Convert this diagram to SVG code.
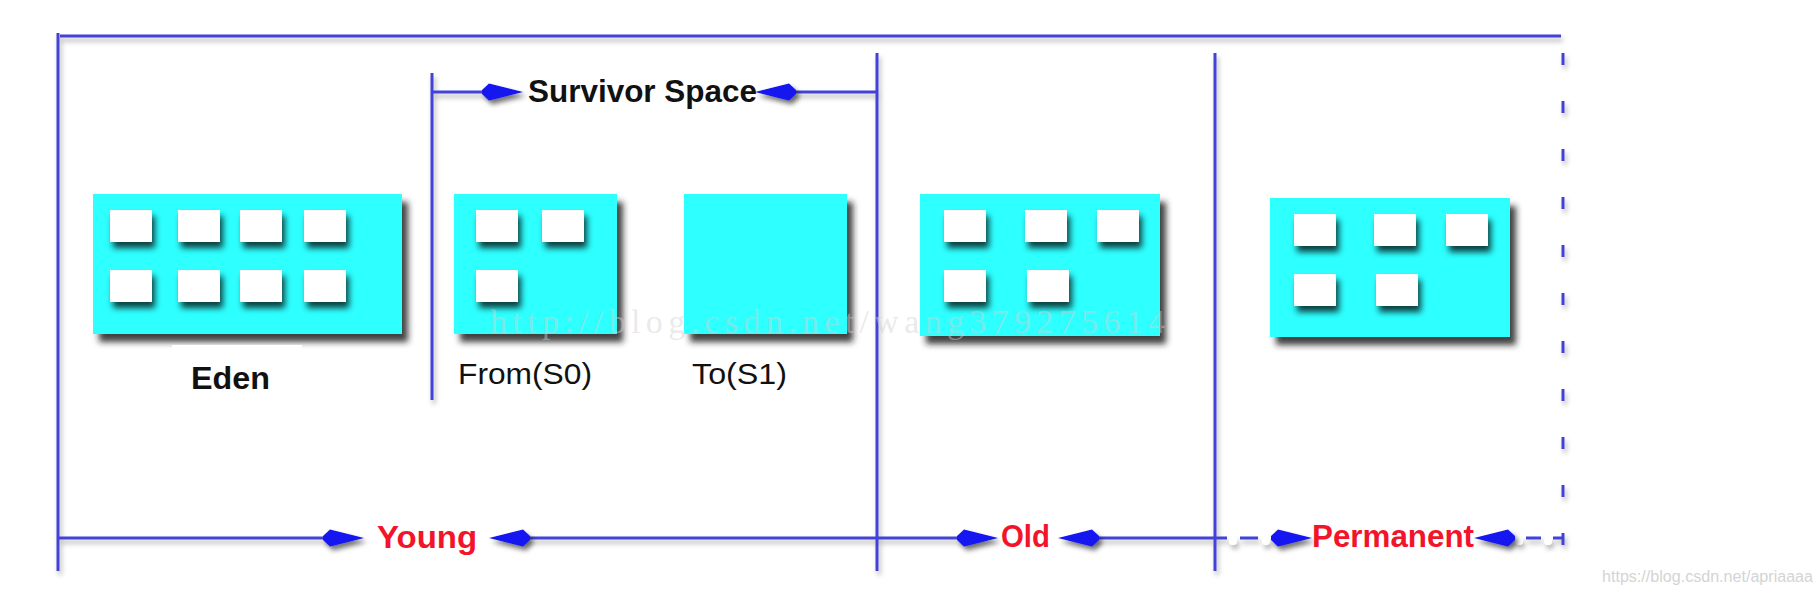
<svg xmlns="http://www.w3.org/2000/svg" xmlns:xlink="http://www.w3.org/1999/xlink" width="1820" height="596" viewBox="0 0 1820 596">
  <style>
    .ln { stroke: #4242d6; stroke-width: 3; fill: none; }
    .box { fill: #2effff; }
    .sq { fill: #ffffff; }
    .lbl { font-family: "Liberation Sans", Arial, sans-serif; fill: #111111; }
    .red { font-family: "Liberation Sans", Arial, sans-serif; font-weight: bold; fill: #f2142a; font-size: 31px; }
    .ah { fill: #1414f0; filter: url(#ahShadow); }
    .dot { fill: #ffffff; }
  </style>
  <defs>
    <filter id="boxShadow" x="-10%" y="-10%" width="130%" height="140%">
      <feDropShadow dx="6" dy="8" stdDeviation="3" flood-color="#202020" flood-opacity="0.85"/>
    </filter>
    <filter id="sqShadow" x="-20%" y="-20%" width="150%" height="170%">
      <feDropShadow dx="3" dy="6" stdDeviation="3" flood-color="#000000" flood-opacity="0.75"/>
    </filter>
    <filter id="lnShadow" x="-5%" y="-20%" width="110%" height="140%" filterUnits="userSpaceOnUse">
      <feDropShadow dx="2" dy="4" stdDeviation="2.5" flood-color="#000000" flood-opacity="0.3"/>
    </filter>
    <filter id="ahShadow" x="-30%" y="-60%" width="170%" height="260%">
      <feDropShadow dx="3" dy="4" stdDeviation="2.5" flood-color="#000000" flood-opacity="0.55"/>
    </filter>
    <path id="arrowR" d="M0,0 L-34,-8.5 L-41,-2 L-41,2 L-34,8.5 Z"/>
    <path id="arrowL" d="M0,0 L34,-8.5 L41,-2 L41,2 L34,8.5 Z"/>
  </defs>

  <rect width="1820" height="596" fill="#ffffff"/>

  <g id="connectors">
    <g filter="url(#lnShadow)">
      <path class="ln" d="M60,36 H1561"/>
      <path class="ln" d="M58,33 V571"/>
      <path class="ln" d="M432,73 V400"/>
      <path class="ln" d="M877,53 V571"/>
      <path class="ln" d="M1215,53 V571"/>
      <path class="ln" d="M1563,53 V571" stroke-dasharray="12 36"/>
      <path class="ln" d="M432,92 H495"/>
      <path class="ln" d="M780,92 H877"/>
      <path class="ln" d="M58,538 H330"/>
      <path class="ln" d="M520,538 H975"/>
      <path class="ln" d="M1090,538 H1215"/>
      <path class="ln" d="M1215,538 H1227 M1240,538 H1258 M1272,538 H1285"/>
      <path class="ln" d="M1500,538 H1512 M1526,538 H1541 M1553,538 H1563"/>
      <circle class="dot" cx="1233" cy="541" r="4"/>
      <circle class="dot" cx="1266" cy="541" r="4"/>
      <circle class="dot" cx="1519" cy="541" r="4"/>
      <circle class="dot" cx="1548" cy="541" r="4"/>
    </g>
    <use href="#arrowR" class="ah" x="523" y="92"/>
    <use href="#arrowL" class="ah" x="755" y="92"/>
    <use href="#arrowR" class="ah" x="364" y="538"/>
    <use href="#arrowL" class="ah" x="489" y="538"/>
    <use href="#arrowR" class="ah" x="998" y="538"/>
    <use href="#arrowL" class="ah" x="1058" y="538"/>
    <use href="#arrowR" class="ah" x="1312" y="538"/>
    <use href="#arrowL" class="ah" x="1474" y="538"/>
  </g>

  <g id="survivor-label">
    <text class="lbl" x="528" y="102" font-size="31" font-weight="bold" textLength="229" lengthAdjust="spacingAndGlyphs">Survivor Space</text>
  </g>

  <g id="eden">
    <rect class="box" x="93" y="194" width="309" height="140" filter="url(#boxShadow)"/>
    <rect x="172" y="345" width="130" height="8" fill="#ffffff"/>
    <g filter="url(#sqShadow)">
      <rect class="sq" x="110" y="210" width="42" height="32"/>
      <rect class="sq" x="178" y="210" width="42" height="32"/>
      <rect class="sq" x="240" y="210" width="42" height="32"/>
      <rect class="sq" x="304" y="210" width="42" height="32"/>
      <rect class="sq" x="110" y="270" width="42" height="32"/>
      <rect class="sq" x="178" y="270" width="42" height="32"/>
      <rect class="sq" x="240" y="270" width="42" height="32"/>
      <rect class="sq" x="304" y="270" width="42" height="32"/>
    </g>
    <text class="lbl" x="191" y="389" font-size="31" font-weight="bold" textLength="79" lengthAdjust="spacingAndGlyphs">Eden</text>
  </g>

  <g id="from-s0">
    <rect class="box" x="454" y="194" width="163" height="140" filter="url(#boxShadow)"/>
    <g filter="url(#sqShadow)">
      <rect class="sq" x="476" y="210" width="42" height="32"/>
      <rect class="sq" x="542" y="210" width="42" height="32"/>
      <rect class="sq" x="476" y="270" width="42" height="32"/>
    </g>
    <text class="lbl" x="458" y="384" font-size="30" fill="#222" textLength="134" lengthAdjust="spacingAndGlyphs">From(S0)</text>
  </g>

  <g id="to-s1">
    <rect class="box" x="684" y="194" width="163" height="140" filter="url(#boxShadow)"/>
    <text class="lbl" x="692" y="384" font-size="30" fill="#222" textLength="95" lengthAdjust="spacingAndGlyphs">To(S1)</text>
  </g>

  <g id="old">
    <rect class="box" x="920" y="194" width="240" height="142" filter="url(#boxShadow)"/>
    <g filter="url(#sqShadow)">
      <rect class="sq" x="944" y="210" width="42" height="32"/>
      <rect class="sq" x="1025" y="210" width="42" height="32"/>
      <rect class="sq" x="1097" y="210" width="42" height="32"/>
      <rect class="sq" x="944" y="270" width="42" height="32"/>
      <rect class="sq" x="1027" y="270" width="42" height="32"/>
    </g>
  </g>

  <g id="permanent">
    <rect class="box" x="1270" y="198" width="240" height="139" filter="url(#boxShadow)"/>
    <g filter="url(#sqShadow)">
      <rect class="sq" x="1294" y="214" width="42" height="32"/>
      <rect class="sq" x="1374" y="214" width="42" height="32"/>
      <rect class="sq" x="1446" y="214" width="42" height="32"/>
      <rect class="sq" x="1294" y="274" width="42" height="32"/>
      <rect class="sq" x="1376" y="274" width="42" height="32"/>
    </g>
  </g>

  <g id="generation-labels">
    <text class="red" x="377" y="548" textLength="100" lengthAdjust="spacingAndGlyphs">Young</text>
    <text class="red" x="1001" y="547" textLength="49" lengthAdjust="spacingAndGlyphs">Old</text>
    <text class="red" x="1312" y="547" textLength="162" lengthAdjust="spacingAndGlyphs">Permanent</text>
  </g>

  <!-- watermarks -->
  <text x="490" y="333" font-family="'Liberation Serif', 'Times New Roman', serif" font-size="34" fill="#d0d0d0" fill-opacity="0.45" textLength="675" lengthAdjust="spacing">http://blog.csdn.net/wang379275614</text>
  <text x="1602" y="582" font-family="'Liberation Sans', Arial, sans-serif" font-size="16" fill="#d4d4d4" textLength="211" lengthAdjust="spacingAndGlyphs">https://blog.csdn.net/apriaaaa</text>
</svg>
